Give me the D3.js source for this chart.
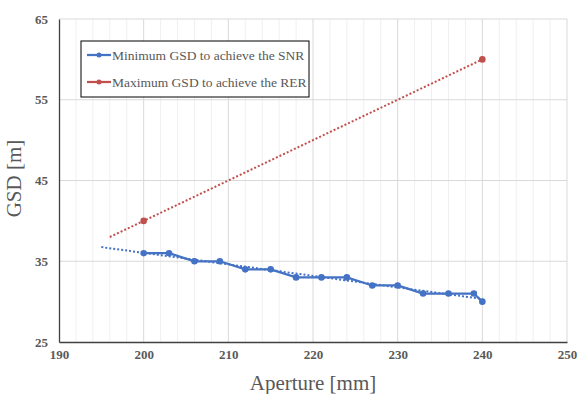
<!DOCTYPE html>
<html>
<head>
<meta charset="utf-8">
<script src="https://cdn.jsdelivr.net/npm/d3@7"></script>
<style>
  body { margin: 0; background: #fff; }
</style>
</head>
<body>
<div id="chart"></div>
<script>
const aperture = [200, 203, 206, 209, 212, 215, 218, 221, 224, 227, 230, 233, 236, 239, 240]
const minGSD = [36, 36, 35, 35, 34, 34, 33, 33, 33, 32, 32, 31, 31, 31, 30]
const rerAperture = [200, 240]
const maxGSD = [40, 60]
const xTickValues = [190, 200, 210, 220, 230, 240, 250]
const yTickValues = [25, 35, 45, 55, 65]
const legendLabels = ["Minimum GSD to achieve the SNR", "Maximum GSD to achieve the RER"]

const W = 577, H = 394
const margin = { top: 19, right: 10, bottom: 52, left: 59 },
    width = W - margin.left - margin.right,
    height = H - margin.top - margin.bottom;

const blue = "#4472C4", red = "#C0504D", grey = "#595959"

const svg = d3.select("#chart")
    .append("svg")
    .attr("width", W)
    .attr("height", H)
    .style("font-family", "'Liberation Serif', 'Times New Roman', serif")
    .append("g")
    .attr("transform", `translate(${margin.left},${margin.top})`);

let x = d3.scaleLinear().domain([190, 250]).range([0, width])
let y = d3.scaleLinear().domain([25, 65]).range([height, 0])

// minor vertical grid every 2 mm
svg.append("g")
    .selectAll("line")
    .data(d3.range(190, 251, 2).filter(v => v % 10 !== 0))
    .enter().append("line")
    .attr("x1", d => x(d)).attr("x2", d => x(d))
    .attr("y1", 0).attr("y2", height)
    .attr("stroke", "#F0F0F0")
    .attr("stroke-width", 1)

// major grid
svg.append("g")
    .selectAll("line")
    .data(xTickValues.slice(1))
    .enter().append("line")
    .attr("x1", d => x(d)).attr("x2", d => x(d))
    .attr("y1", 0).attr("y2", height)
    .attr("stroke", "#D9D9D9")

svg.append("g")
    .selectAll("line")
    .data(yTickValues.slice(1))
    .enter().append("line")
    .attr("x1", 0).attr("x2", width)
    .attr("y1", d => y(d)).attr("y2", d => y(d))
    .attr("stroke", "#D9D9D9")

// axes
let xAxis = svg.append("g")
    .attr("transform", "translate(0," + height + ")")
    .call(d3.axisBottom(x).tickValues(xTickValues).tickSize(0).tickPadding(8))
xAxis.select(".domain").attr("stroke", "#404040").attr("stroke-width", 1.3)
xAxis.selectAll("text")
    .attr("font-size", "13px")
    .attr("font-weight", "bold")
    .attr("font-family", "'Liberation Serif', serif")
    .attr("fill", grey)

let yAxis = svg.append("g")
    .call(d3.axisLeft(y).tickValues(yTickValues).tickSize(0).tickPadding(11))
yAxis.select(".domain").attr("stroke", "#404040").attr("stroke-width", 1.3)
yAxis.selectAll("text")
    .attr("font-size", "13px")
    .attr("font-weight", "bold")
    .attr("font-family", "'Liberation Serif', serif")
    .attr("fill", grey)

// axis titles
svg.append("text")
    .attr("x", width / 2)
    .attr("y", height + 48)
    .attr("text-anchor", "middle")
    .attr("font-size", "21px")
    .attr("fill", grey)
    .text("Aperture [mm]")

svg.append("text")
    .attr("transform", `translate(${-38},${height / 2 - 2}) rotate(-90)`)
    .attr("text-anchor", "middle")
    .attr("font-size", "21px")
    .attr("fill", grey)
    .text("GSD [m]")

// linear trendlines
function fit(xs, ys) {
    const mx = d3.mean(xs), my = d3.mean(ys)
    let num = 0, den = 0
    xs.forEach((v, i) => { num += (v - mx) * (ys[i] - my); den += (v - mx) * (v - mx) })
    const b = num / den
    return { a: my - b * mx, b: b }
}
const fb = fit(aperture, minGSD)
const fr = fit(rerAperture, maxGSD)
const blueTrend = [195, 240]
const redTrend = [196, 240]

svg.append("line")
    .attr("x1", x(blueTrend[0])).attr("y1", y(fb.a + fb.b * blueTrend[0]))
    .attr("x2", x(blueTrend[1])).attr("y2", y(fb.a + fb.b * blueTrend[1]))
    .attr("stroke", blue).attr("stroke-width", 2)
    .attr("stroke-dasharray", "2,2")

svg.append("line")
    .attr("x1", x(redTrend[0])).attr("y1", y(fr.a + fr.b * redTrend[0]))
    .attr("x2", x(redTrend[1])).attr("y2", y(fr.a + fr.b * redTrend[1]))
    .attr("stroke", red).attr("stroke-width", 2)
    .attr("stroke-dasharray", "2,2")

// blue series
const blueData = aperture.map((a, i) => ({ a: a, g: minGSD[i] }))
svg.append("path")
    .datum(blueData)
    .attr("fill", "none")
    .attr("stroke", blue)
    .attr("stroke-width", 2.25)
    .attr("d", d3.line().x(d => x(d.a)).y(d => y(d.g)))

svg.selectAll(".bdot")
    .data(blueData)
    .enter().append("circle")
    .attr("r", 3.3)
    .attr("cx", d => x(d.a))
    .attr("cy", d => y(d.g))
    .style("fill", blue)

const redData = rerAperture.map((a, i) => ({ a: a, g: maxGSD[i] }))
svg.selectAll(".rdot")
    .data(redData)
    .enter().append("circle")
    .attr("r", 3.3)
    .attr("cx", d => x(d.a))
    .attr("cy", d => y(d.g))
    .style("fill", red)

// legend
let legend = d3.select("svg").append("g").attr("transform", "translate(81,41)")
legend.append("rect")
    .attr("width", 228).attr("height", 56)
    .attr("fill", "#fff")
    .attr("stroke", "#000").attr("stroke-width", 1)

const legendColors = [blue, red]
legendLabels.forEach((lab, i) => {
    const ly = 14 + i * 27
    legend.append("line")
        .attr("x1", 6).attr("x2", 30)
        .attr("y1", ly).attr("y2", ly)
        .attr("stroke", legendColors[i]).attr("stroke-width", 2.25)
    legend.append("circle")
        .attr("cx", 18).attr("cy", ly).attr("r", 2.5)
        .attr("fill", legendColors[i])
    legend.append("text")
        .attr("x", 31).attr("y", ly + 4.5)
        .attr("font-size", "13.5px")
        .attr("fill", grey)
        .text(lab)
})
</script>
</body>
</html>
